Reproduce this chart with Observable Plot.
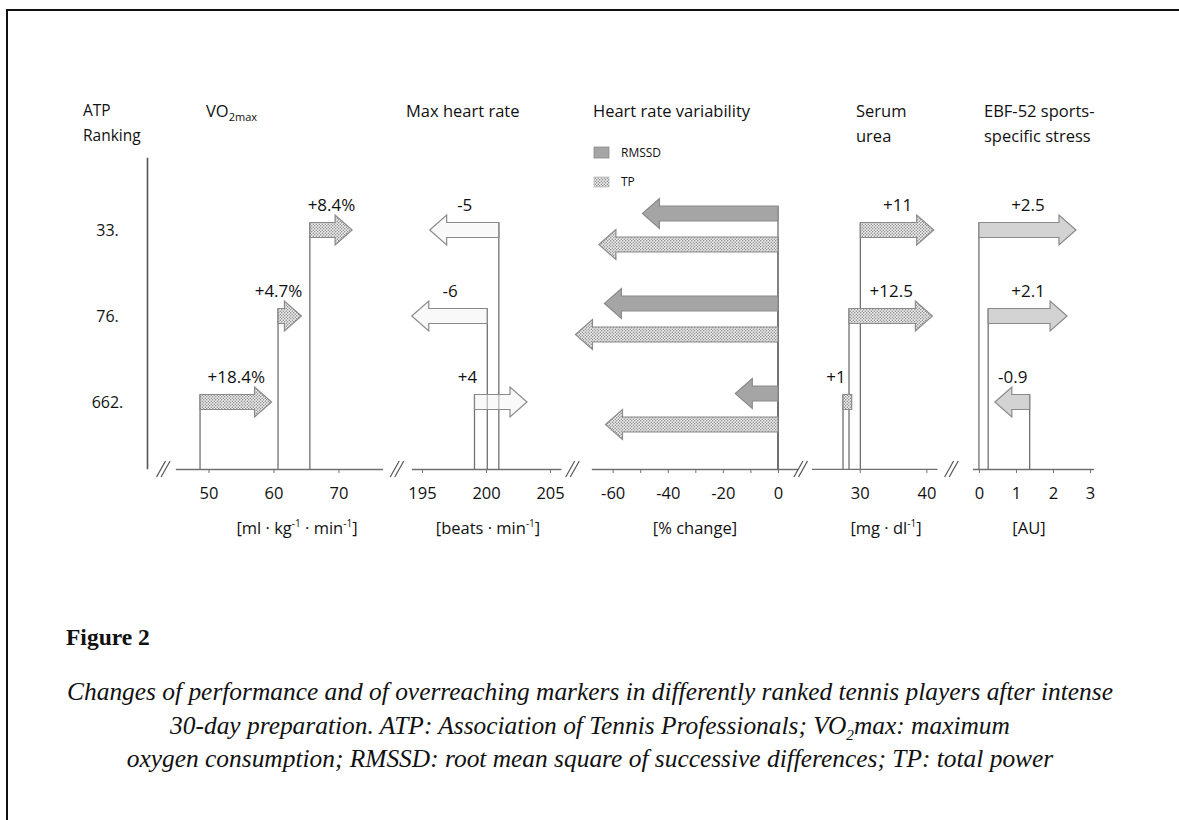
<!DOCTYPE html>
<html><head><meta charset="utf-8">
<script src="https://cdn.jsdelivr.net/npm/d3@7"></script>
<script src="https://cdn.jsdelivr.net/npm/@observablehq/plot@0.6"></script>
<style>
html,body{margin:0;padding:0;background:#fff;}
body{width:1179px;height:820px;overflow:hidden;position:relative;font-family:"Open Sans",sans-serif;color:#111;}
#frame{position:absolute;left:6px;top:9px;width:1400px;height:1000px;border-left:2px solid #111;border-top:2px solid #111;}
.abs{position:absolute;white-space:nowrap;}
.title{font-size:16.5px;line-height:25px;top:97.5px;}
.small{font-size:15.5px;}
.sub{font-size:11px;position:relative;top:4px;}
.unit{font-size:16.5px;line-height:24px;top:516px;width:220px;text-align:center;}
.unit sup{font-size:10px;line-height:0;position:relative;top:-1px;}
#fig{font-family:"Liberation Serif",serif;font-weight:bold;font-size:23.5px;left:66px;top:622px;line-height:30px;}
#cap{font-family:"Liberation Serif",serif;font-style:italic;left:0;width:1180px;text-align:center;top:675px;line-height:33.5px;white-space:nowrap;}
#cap sub{font-size:0.6em;line-height:0;}
</style></head><body>
<svg width="0" height="0" style="position:absolute"><defs>
<pattern id="dots" width="3" height="3" patternUnits="userSpaceOnUse">
<rect width="3" height="3" fill="#efefef"/>
<circle cx="0.75" cy="0.75" r="0.7" fill="#777"/>
<circle cx="2.25" cy="2.25" r="0.7" fill="#777"/>
</pattern></defs></svg>
<div id="frame"></div>
<div id="root"></div>
<script>
// ---------- data ----------
const ranks = ["33.", "76.", "662."];

const vo2Start = [65.6, 60.7, 48.7];
const vo2End = [72.1, 64.3, 59.7];
const vo2Label = ["+8.4%", "+4.7%", "+18.4%"];
const vo2Ticks = [50, 60, 70];

const hrStart = [201.0, 200.1, 199.1];
const hrEnd = [195.6, 194.2, 203.2];
const hrLabel = ["-5", "-6", "+4"];
const hrTicks = [195, 200, 205];

const hrvSeries = ["RMSSD", "TP"];
const hrvStart = [0, 0, 0];
const hrvRmssd = [-49.2, -63.0, -15.5];
const hrvTp = [-65.0, -73.5, -62.6];
const hrvTicks = [-60, -40, -20, 0];
const hrvMinorTicks = [-50, -30, -10];

const ureaStart = [30.1, 28.4, 27.5];
const ureaEnd = [41.1, 40.9, 28.8];
const ureaLabel = ["+11", "+12.5", "+1"];
const ureaTicks = [30, 40];

const ebfStart = [0.0, 0.25, 1.37];
const ebfEnd = [2.62, 2.38, 0.43];
const ebfLabel = ["+2.5", "+2.1", "-0.9"];
const ebfTicks = [0, 1, 2, 3];

const captionLines = [
  "Changes of performance and of overreaching markers in differently ranked tennis players after intense",
  "30-day preparation. ATP: Association of Tennis Professionals; VO<sub>2</sub>max: maximum",
  "oxygen consumption; RMSSD: root mean square of successive differences; TP: total power"
];

// ---------- helpers ----------
const NS = "http://www.w3.org/2000/svg";
function el(tag, attrs) { const e = document.createElementNS(NS, tag); for (const k in attrs) e.setAttribute(k, attrs[k]); return e; }
const rowsOf = (start, end, label) => ranks.map((rank, i) => ({rank, i, start: start[i], end: end[i], label: label ? label[i] : ""}));

function arrowMark(rows, {fill, fillOpacity = 1, dy = () => 0, head = 17, hh = 15, sh = 7.5}) {
  return (index, scales, values, dims) => {
    const g = el("g", {});
    const base = dims.height - dims.marginBottom;
    for (const r of rows) {
      const x0 = scales.x(r.start), y = scales.y(r.rank) + dy(r) - sh;
      g.append(el("line", {x1: x0, x2: x0, y1: y, y2: base, stroke: "#707070", "stroke-width": 1.3}));
    }
    for (const r of rows) {
      const x0 = scales.x(r.start), x1 = scales.x(r.end), y = scales.y(r.rank) + dy(r);
      const d = x1 >= x0 ? 1 : -1, len = Math.abs(x1 - x0);
      let pts;
      if (len < head + 4) pts = [[x0, y - sh], [x1, y - sh], [x1, y + sh], [x0, y + sh]];
      else { const xh = x1 - d * head; pts = [[x0, y - sh], [xh, y - sh], [xh, y - hh], [x1, y], [xh, y + hh], [xh, y + sh], [x0, y + sh]]; }
      g.append(el("polygon", {points: pts.map(p => p.join(",")).join(" "), fill: typeof fill === "function" ? fill(r) : fill,
        "fill-opacity": fillOpacity, stroke: "#8a8a8a", "stroke-width": 1.2}));
    }
    return g;
  };
}
function breakMark(off) {
  return (index, scales, values, dims) => {
    const g = el("g", {stroke: "#555", "stroke-width": 1.2});
    const cx = dims.marginLeft + off, cy = dims.height - dims.marginBottom;
    for (const s of [-2.3, 2.3]) g.append(el("line", {x1: cx + s - 4.5, y1: cy + 8, x2: cx + s + 4.5, y2: cy - 8}));
    return g;
  };
}

const root = document.getElementById("root");
const TOP = 150, H = 400, MB = 81;
const baseStyle = {background: "transparent", fontFamily: '"Open Sans", sans-serif', fontSize: "16px", color: "#111", overflow: "visible"};

function panel({x0, x1, domain, ticks, minor, rows, arrowOpt, brk, yRange = [79, 252], labels = true}) {
  const mL = 45, mR = 30;
  const ppu = (x1 - x0) / (domain[1] - domain[0]);
  // label placement: over the middle of the arrow; very short rightward arrows over their start;
  // if the label would sit on a stem of a row above, move it just left of the arrow start
  const labelX = d => {
    const hw = d.label.length * 4.8 / ppu;
    let x = (d.end > d.start && (d.end - d.start) * ppu < 30) ? d.start : (d.start + d.end) / 2;
    const hit = rows.some(o => o.i < d.i && o.start > x - hw && o.start < x + hw);
    if (hit) x = d.start + 2 / ppu - hw;
    return x;
  };
  const marks = [
    Plot.frame({anchor: "bottom", stroke: "#707070", strokeWidth: 1.3}),
    Plot.axisX(ticks, {tickSize: 4, tickPadding: 14, tickFormat: d => String(d), fontSize: 16.5, stroke: "#707070", fill: "#111"}),
  ];
  if (minor) marks.push(Plot.axisX(minor, {tickSize: 4, tickFormat: () => "", stroke: "#707070"}));
  marks.push(breakMark(brk));
  marks.push(arrowMark(rows, arrowOpt));
  if (labels) marks.push(Plot.text(rows, {x: labelX, y: "rank", text: "label", dy: -25, fontSize: 17, fill: "#111"}));
  const svg = Plot.plot({
    width: x1 - x0 + mL + mR, height: H,
    marginLeft: mL, marginRight: mR, marginTop: 0, marginBottom: MB,
    x: {domain},
    y: {type: "point", domain: ranks, range: yRange, padding: 0, axis: null},
    style: baseStyle,
    marks
  });
  svg.style.position = "absolute";
  svg.style.left = (x0 - mL) + "px";
  svg.style.top = TOP + "px";
  root.append(svg);
}

// ranking axis
{
  const svg = Plot.plot({
    width: 72, height: H, marginLeft: 30, marginRight: 2, marginTop: 8, marginBottom: 82,
    y: {type: "point", domain: ranks, range: [79, 252], padding: 0, axis: null},
    style: baseStyle,
    marks: [
      Plot.frame({anchor: "right", stroke: "#555", strokeWidth: 1.6}),
      Plot.axisY({anchor: "left", tickSize: 0, tickPadding: 0, textAnchor: "middle", fontSize: 16, fill: "#111"})
    ]
  });
  svg.style.position = "absolute"; svg.style.left = "77px"; svg.style.top = TOP + "px";
  root.append(svg);
}

panel({x0: 176, x1: 382, domain: [45.0, 76.7], ticks: vo2Ticks, rows: rowsOf(vo2Start, vo2End, vo2Label),
  arrowOpt: {fill: "url(#dots)"}, brk: -12.7});
panel({x0: 411.7, x1: 560, domain: [194.22, 205.8], ticks: hrTicks, rows: rowsOf(hrStart, hrEnd, hrLabel),
  arrowOpt: {fill: "#f4f4f4", fillOpacity: 0.55}, brk: -15});
{
  const hrvRows = [];
  ranks.forEach((rank, i) => {
    hrvRows.push({rank, i, series: hrvSeries[0], start: hrvStart[i], end: hrvRmssd[i], label: ""});
    hrvRows.push({rank, i, series: hrvSeries[1], start: hrvStart[i], end: hrvTp[i], label: ""});
  });
  panel({x0: 591.7, x1: 796.7, domain: [-67.5, 6.9], ticks: hrvTicks, minor: hrvMinorTicks, rows: hrvRows, labels: false,
    yRange: [78.5, 259],
    arrowOpt: {fill: d => d.series === "RMSSD" ? "#a5a5a5" : "url(#dots)", dy: d => d.series === "RMSSD" ? -15.5 : 15.5}, brk: -19.5});
}
panel({x0: 812.3, x1: 936.7, domain: [22.85, 41.5], ticks: ureaTicks, rows: rowsOf(ureaStart, ureaEnd, ureaLabel),
  arrowOpt: {fill: "url(#dots)"}, brk: -11.3});
panel({x0: 973.3, x1: 1093.3, domain: [-0.16, 3.08], ticks: ebfTicks, rows: rowsOf(ebfStart, ebfEnd, ebfLabel),
  arrowOpt: {fill: "#d3d3d3"}, brk: -21.6});

// ---------- texts ----------
function div(cls, html, style) { const d = document.createElement("div"); d.className = "abs " + cls; d.innerHTML = html; Object.assign(d.style, style || {}); document.body.append(d); return d; }
div("title small", "ATP<br>Ranking", {left: "83px"});
div("title", 'VO<span class="sub">2max</span>', {left: "206px"});
div("title", "Max heart rate", {left: "406px"});
div("title", "Heart rate variability", {left: "593px"});
div("title", "Serum<br>urea", {left: "856px"});
div("title", "EBF-52 sports-<br>specific stress", {left: "984px"});

const units = [
  [297, "[ml · kg<sup>-1</sup> · min<sup>-1</sup>]"],
  [488, "[beats · min<sup>-1</sup>]"],
  [695, "[% change]"],
  [886, "[mg · dl<sup>-1</sup>]"],
  [1029, "[AU]"]
];
for (const [cx, t] of units) div("unit", t, {left: (cx - 110) + "px"});

// legend
div("legend", `<svg width="90" height="55" style="overflow:visible">
    <rect x="4" y="7" width="15" height="11" fill="#a5a5a5" stroke="#8a8a8a" stroke-width="0.8"/>
    <text x="31" y="17.3" font-size="12" font-family="Open Sans" fill="#111">${hrvSeries[0]}</text>
    <rect x="4" y="37" width="15" height="10" fill="url(#dots)" stroke="#aaa" stroke-width="0.6"/>
    <text x="31" y="46.3" font-size="12" font-family="Open Sans" fill="#111">${hrvSeries[1]}</text>
  </svg>`, {left: "590px", top: "140px"});

div("", "Figure 2", {}).id = "fig";
{
  const c = div("", captionLines.join("<br>"), {});
  c.id = "cap";
  const ctx = document.createElement("canvas").getContext("2d");
  ctx.font = 'italic 20px "Liberation Serif"';
  const w = ctx.measureText(captionLines[0]).width;
  c.style.fontSize = (20 * 1046 / w).toFixed(2) + "px";
}
</script>
</body></html>
